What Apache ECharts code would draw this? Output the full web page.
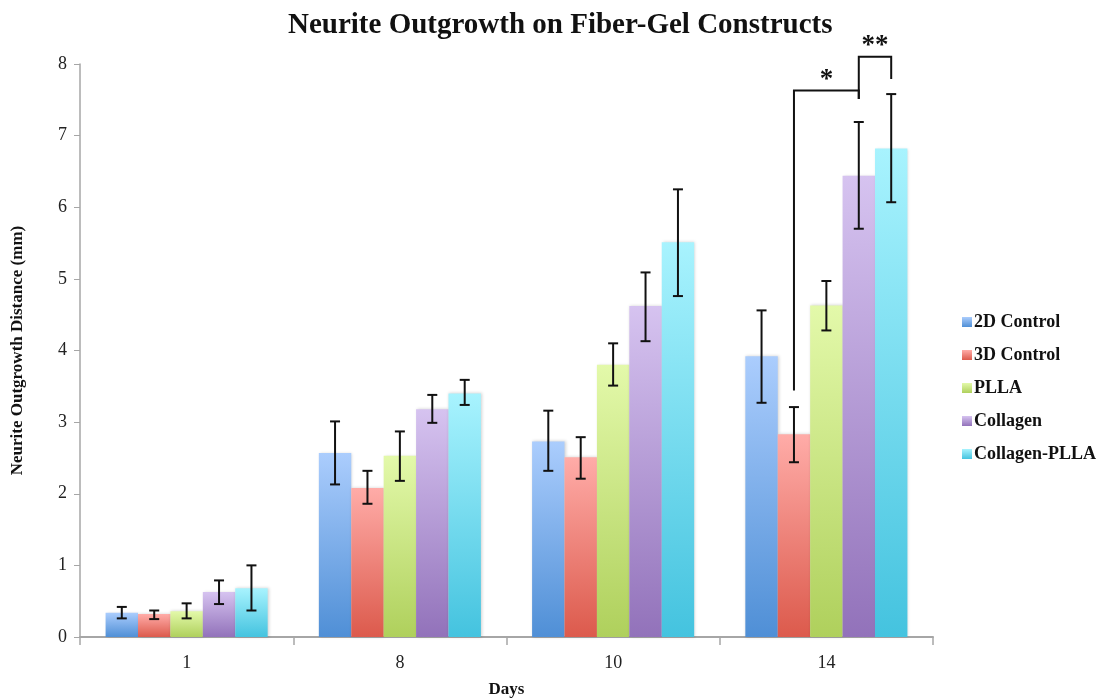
<!DOCTYPE html>
<html>
<head>
<meta charset="utf-8">
<script src="https://cdn.jsdelivr.net/npm/echarts@6/dist/echarts.min.js"></script>
<style>
html,body{margin:0;padding:0;background:#fff;}
#chart{width:1097px;height:700px;}
</style>
</head>
<body>
<div id="chart"></div>
<script>
// ---- data ----
const categories = ['1', '8', '10', '14'];
const seriesNames = ['2D Control', '3D Control', 'PLLA', 'Collagen', 'Collagen-PLLA'];

const ctrl2D       = [0.34, 2.57, 2.73, 3.92];
const ctrl2DLow    = [0.26, 2.13, 2.32, 3.27];
const ctrl2DHigh   = [0.42, 3.01, 3.16, 4.56];

const ctrl3D       = [0.32, 2.08, 2.51, 2.83];
const ctrl3DLow    = [0.25, 1.86, 2.21, 2.44];
const ctrl3DHigh   = [0.37, 2.32, 2.79, 3.21];

const plla         = [0.36, 2.53, 3.80, 4.63];
const pllaLow      = [0.26, 2.18, 3.51, 4.28];
const pllaHigh     = [0.47, 2.87, 4.10, 4.97];

const collagen     = [0.63, 3.18, 4.62, 6.44];
const collagenLow  = [0.46, 2.99, 4.13, 5.70];
const collagenHigh = [0.79, 3.38, 5.09, 7.19];

const colPlla      = [0.68, 3.40, 5.51, 6.82];
const colPllaLow   = [0.37, 3.24, 4.76, 6.07];
const colPllaHigh  = [1.00, 3.59, 6.25, 7.58];

// significance brackets (category 14): from series index -> to series index
const sigCategory  = [3, 3];
const sigFrom      = [1, 3];
const sigTo        = [3, 4];
const sigFromEnd   = [3.44, 7.51];
const sigToEnd     = [7.51, 7.79];
const sigTop       = [7.63, 8.10];
const sigLabels    = ['*', '**'];

// ---- styling ----
const gradients = [
  ['#abcdfd', '#4f8fd6'],
  ['#ffaca8', '#dc5a4c'],
  ['#e3f9aa', '#afd05c'],
  ['#d6c3f0', '#9272ba'],
  ['#a8f3fe', '#44c3df']
];
const values = [ctrl2D, ctrl3D, plla, collagen, colPlla];
const lows = [ctrl2DLow, ctrl3DLow, pllaLow, collagenLow, colPllaLow];
const highs = [ctrl2DHigh, ctrl3DHigh, pllaHigh, collagenHigh, colPllaHigh];

const CAT_GAP = 0.24;
const NS = seriesNames.length;
const serif = '"Liberation Serif", "DejaVu Serif", serif';

function grad(c) {
  return new echarts.graphic.LinearGradient(0, 0, 0, 1, [
    {offset: 0, color: c[0]}, {offset: 1, color: c[1]}
  ]);
}

function barOffset(api, s) {
  const catW = api.size([1, 0])[0];
  const barW = catW * (1 - CAT_GAP) / NS;
  return (s - (NS - 1) / 2) * barW;
}

const errData = [];
for (let s = 0; s < NS; s++) {
  for (let c = 0; c < categories.length; c++) {
    errData.push([c, s, lows[s][c], highs[s][c]]);
  }
}
const sigData = sigFrom.map((f, i) => [sigCategory[i], f, sigTo[i], sigFromEnd[i], sigToEnd[i], sigTop[i], i]);

const series = seriesNames.map((n, s) => ({
  name: n,
  type: 'bar',
  data: values[s],
  barGap: 0,
  barCategoryGap: (CAT_GAP * 100) + '%',
  itemStyle: {
    color: grad(gradients[s]),
    shadowBlur: 3,
    shadowColor: 'rgba(0,0,0,0.18)',
    shadowOffsetX: 1
  }
}));

series.push({
  type: 'custom',
  name: 'errors',
  data: errData,
  z: 10,
  silent: true,
  renderItem: function (params, api) {
    const c = api.value(0), s = api.value(1);
    const lo = api.coord([c, api.value(2)]);
    const hi = api.coord([c, api.value(3)]);
    const x = lo[0] + barOffset(api, s);
    const cap = 5;
    const style = {stroke: '#111', lineWidth: 2};
    return {
      type: 'group',
      children: [
        {type: 'line', shape: {x1: x, y1: lo[1], x2: x, y2: hi[1]}, style: style},
        {type: 'line', shape: {x1: x - cap, y1: lo[1], x2: x + cap, y2: lo[1]}, style: style},
        {type: 'line', shape: {x1: x - cap, y1: hi[1], x2: x + cap, y2: hi[1]}, style: style}
      ]
    };
  }
});

series.push({
  type: 'custom',
  name: 'significance',
  data: sigData,
  z: 10,
  silent: true,
  clip: false,
  renderItem: function (params, api) {
    const c = api.value(0);
    const x1 = api.coord([c, 0])[0] + barOffset(api, api.value(1));
    const x2 = api.coord([c, 0])[0] + barOffset(api, api.value(2));
    const yA = api.coord([c, api.value(3)])[1];
    const yB = api.coord([c, api.value(4)])[1];
    const yT = api.coord([c, api.value(5)])[1];
    const style = {stroke: '#111', lineWidth: 2, fill: null};
    return {
      type: 'group',
      children: [
        {type: 'polyline', shape: {points: [[x1, yA], [x1, yT], [x2, yT], [x2, yB]]}, style: style},
        {type: 'text', style: {
          text: sigLabels[api.value(6)], x: (x1 + x2) / 2, y: yT + 3,
          textAlign: 'center', textVerticalAlign: 'bottom',
          font: 'bold 27px ' + serif, fill: '#111'
        }}
      ]
    };
  }
});

const chart = echarts.init(document.getElementById('chart'), null, {renderer: 'canvas'});
chart.setOption({
  backgroundColor: '#fff',
  animation: false,
  title: {
    text: 'Neurite Outgrowth on Fiber-Gel Constructs',
    left: 283,
    top: 6,
    textStyle: {fontFamily: serif, fontWeight: 'bold', fontSize: 29, color: '#111'}
  },
  legend: {
    data: seriesNames,
    orient: 'vertical',
    left: 957,
    top: 308,
    itemWidth: 10,
    itemHeight: 10,
    itemGap: 15,
    icon: 'rect',
    textStyle: {fontFamily: serif, fontWeight: 'bold', fontSize: 18, color: '#111', padding: [0, 0, 0, -3]}
  },
  grid: {left: 80, right: 164, top: 64, bottom: 63, outerBoundsMode: 'none', containLabel: false},
  xAxis: {
    type: 'category',
    data: categories,
    name: 'Days',
    nameLocation: 'middle',
    nameGap: 44,
    nameTextStyle: {fontFamily: serif, fontWeight: 'bold', fontSize: 17, color: '#111'},
    axisLine: {lineStyle: {color: '#a6a6a6', width: 2}},
    axisTick: {show: true, length: 8, lineStyle: {color: '#a6a6a6', width: 1.5}},
    axisLabel: {fontFamily: serif, fontSize: 18, color: '#222', margin: 17}
  },
  yAxis: {
    type: 'value',
    min: 0,
    max: 8,
    interval: 1,
    name: 'Neurite Outgrowth Distance (mm)',
    nameLocation: 'middle',
    nameGap: 54,
    nameTextStyle: {fontFamily: serif, fontWeight: 'bold', fontSize: 17, color: '#111'},
    axisLine: {show: true, lineStyle: {color: '#a6a6a6', width: 1.5}},
    axisTick: {show: true, length: 6, lineStyle: {color: '#a6a6a6'}},
    splitLine: {show: false},
    axisLabel: {fontFamily: serif, fontSize: 18, color: '#222', margin: 13}
  },
  series: series
});
</script>
</body>
</html>
